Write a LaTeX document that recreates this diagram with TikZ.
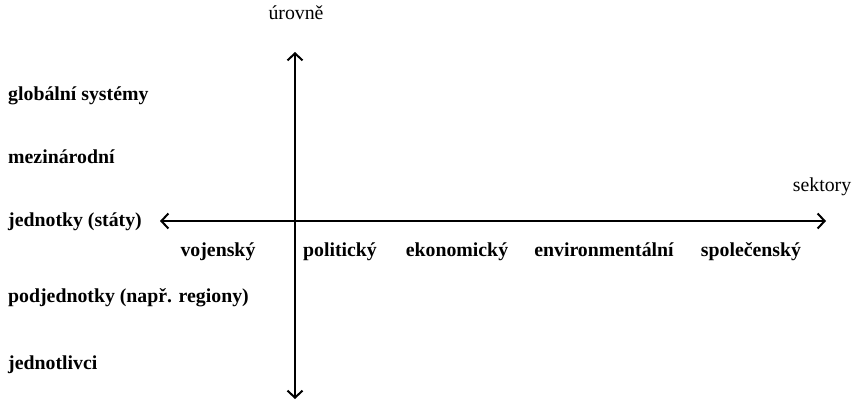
\documentclass[tikz,border=0pt]{standalone}
\usepackage{fontspec}
\setmainfont{Liberation Serif}
\usepackage{tikz}
\usetikzlibrary{arrows.meta,positioning}

\begin{document}
\begin{tikzpicture}[
  x=1pt, y=-1pt,
  font=\fontsize{19.8}{22}\selectfont,
  axis/.style={line width=2pt,
               {Straight Barb[length=7pt,width=15pt,line width=2pt]}-{Straight Barb[length=7pt,width=15pt,line width=2pt]}},
  level/.style={anchor=base west, inner sep=0pt, font=\fontsize{19.8}{22}\selectfont\bfseries},
  sector/.style={anchor=base, inner sep=0pt, font=\fontsize{19.8}{22}\selectfont\bfseries},
  axlabel/.style={anchor=base, inner sep=0pt},
]
\useasboundingbox (0,0) rectangle (854,405);

%% --- Osy ---
\coordinate (top)    at (295,52);
\coordinate (bottom) at (295,399);
\coordinate (left)   at (160,221);
\coordinate (right)  at (826,221);

\draw[axis] (bottom) -- (top);
\draw[axis] (left) -- (right);

\node[axlabel] (urovne)  at (296,19)  {úrovně};
\node[axlabel] (sektory) at (822,191) {sektory};

%% --- Úrovně ---
\node[level] (glob)  at (8,100) {globální systémy};
\node[level] (mezi)  at (8,163) {mezinárodní};
\node[level] (jedn)  at (8,226) {jednotky (státy)};
\node[level] (podj)  at (8,302) {podjednotky (např. regiony)};
\node[level] (indiv) at (8,369) {jednotlivci};

%% --- Sektory ---
\node[sector] (voj) at (218,256) {vojenský};
\node[sector] (pol) at (340,256) {politický};
\node[sector] (eko) at (457,256) {ekonomický};
\node[sector] (env) at (604,256) {environmentální};
\node[sector] (spo) at (751,256) {společenský};

\end{tikzpicture}
\end{document}
